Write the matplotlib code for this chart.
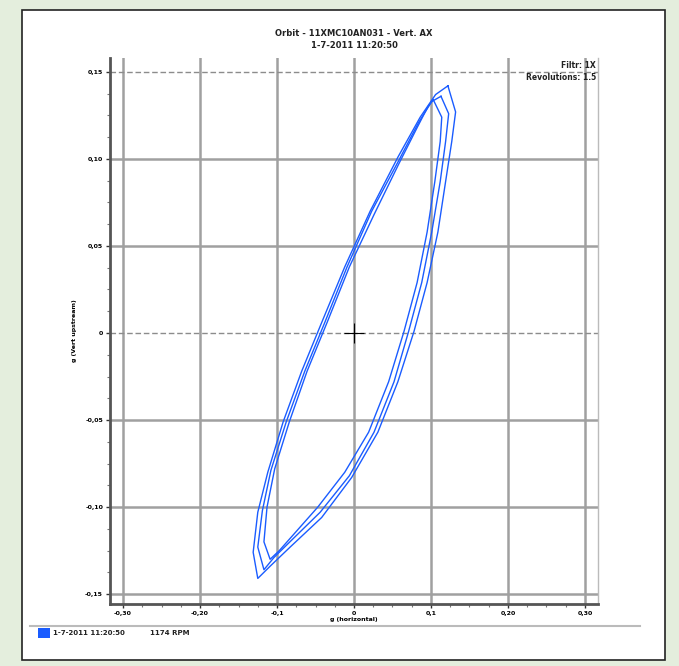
import matplotlib
matplotlib.use("Agg")
import matplotlib.pyplot as plt
from matplotlib.patches import Rectangle

# orbit samples (g), three revolutions
loop1_x = [0.122, 0.132, 0.127, 0.119, 0.109, 0.095, 0.078, 0.057, 0.031, -0.003, -0.042, -0.083, -0.109,
           -0.125, -0.131, -0.125, -0.112, -0.092, -0.068, -0.042, -0.012, 0.021, 0.057, 0.086, 0.106]
loop1_y = [0.142, 0.127, 0.110, 0.087, 0.058, 0.029, 0.001, -0.028, -0.057, -0.083, -0.106, -0.123, -0.134,
           -0.141, -0.126, -0.103, -0.080, -0.051, -0.022, 0.006, 0.038, 0.070, 0.101, 0.124, 0.137]
loop2_x = [0.113, 0.123, 0.119, 0.112, 0.101, 0.088, 0.071, 0.052, 0.026, -0.006, -0.044, -0.081, -0.104,
           -0.117, -0.125, -0.119, -0.108, -0.088, -0.064, -0.038, -0.009, 0.023, 0.058, 0.084, 0.101]
loop2_y = [0.136, 0.126, 0.110, 0.087, 0.058, 0.029, 0.001, -0.028, -0.057, -0.082, -0.103, -0.119, -0.129,
           -0.136, -0.123, -0.102, -0.079, -0.051, -0.022, 0.006, 0.038, 0.070, 0.099, 0.121, 0.133]
loop3_x = [0.103, 0.114, 0.112, 0.105, 0.095, 0.082, 0.065, 0.045, 0.019, -0.012, -0.047, -0.079, -0.097,
           -0.109, -0.117, -0.113, -0.103, -0.084, -0.061, -0.035, -0.006, 0.026, 0.058, 0.082, 0.096]
loop3_y = [0.134, 0.124, 0.110, 0.087, 0.058, 0.029, 0.001, -0.028, -0.057, -0.080, -0.100, -0.116, -0.125,
           -0.130, -0.120, -0.100, -0.078, -0.051, -0.022, 0.006, 0.038, 0.068, 0.097, 0.118, 0.130]

x_ticks = [-0.3, -0.2, -0.1, 0, 0.1, 0.2, 0.3]
x_labels = ["-0,30", "-0,20", "-0,1", "0", "0,1", "0,20", "0,30"]
y_ticks = [0.15, 0.10, 0.05, 0, -0.05, -0.10, -0.15]
y_labels = ["0,15", "0,10", "0,05", "0", "-0,05", "-0,10", "-0,15"]

blue = "#1a5cff"

fig = plt.figure(figsize=(6.79, 6.66), dpi=100)
fig.patch.set_facecolor("#e4eedd")

# white sheet with black border
sheet = Rectangle((22 / 679, 6 / 666), 643 / 679, 650 / 666, transform=fig.transFigure,
                  facecolor="white", edgecolor="#222222", lw=1.2, zorder=-5)
fig.add_artist(sheet)

ax = fig.add_axes([110 / 679, 62 / 666, 488 / 679, 546 / 666])
ax.set_zorder(2)
ax.set_facecolor("white")

for lx, ly in [(loop1_x, loop1_y), (loop2_x, loop2_y), (loop3_x, loop3_y)]:
    ax.plot(lx + lx[:1], ly + ly[:1], color=blue, lw=1.0, zorder=3)

ax.plot([0], [0], marker="+", color="black", markersize=14, mew=0.8, zorder=4)

ax.set_xlim(-0.317, 0.317)
ax.set_ylim(-0.1557, 0.158)

ax.set_xticks(x_ticks)
ax.set_xticklabels(x_labels)
ax.set_yticks(y_ticks)
ax.set_yticklabels(y_labels)
ax.set_xticks([t / 40 for t in range(-12, 13)], minor=True)
ax.set_yticks([t / 80 for t in range(-12, 13)], minor=True)
ax.tick_params(which="major", length=3, width=1, color="#333333", labelsize=4.5, pad=2)
ax.tick_params(which="minor", length=2, width=0.8, color="#777777")
for lab in ax.get_xticklabels() + ax.get_yticklabels():
    lab.set_fontweight("bold")

# grid: solid grey lines, dashed at y=0 and y=0.15
for xv in x_ticks:
    ax.axvline(xv, color="#a0a0a0", lw=1.8, zorder=1)
for yv in y_ticks:
    if yv in (0, 0.15):
        ax.axhline(yv, color="#8c8c8c", lw=1.0, ls=(0, (4, 2)), zorder=1)
    else:
        ax.axhline(yv, color="#a0a0a0", lw=1.8, zorder=1)

for side in ["left", "bottom"]:
    ax.spines[side].set_color("#555555")
    ax.spines[side].set_linewidth(2.0)
ax.spines["top"].set_visible(False)
ax.spines["right"].set_color("#bbbbbb")
ax.spines["right"].set_linewidth(1.0)

ax.set_xlabel("g (horizontal)", fontsize=4.5, fontweight="bold", labelpad=1)
ax.set_ylabel("g (Vert upstream)", fontsize=4.5, fontweight="bold", labelpad=6)

fig.text(354 / 679, 1 - 33 / 666, "Orbit - 11XMC10AN031 - Vert. AX", ha="center", va="center",
         fontsize=6, fontweight="bold", color="#222222")
fig.text(354 / 679, 1 - 45 / 666, "1-7-2011 11:20:50", ha="center", va="center",
         fontsize=6, fontweight="bold", color="#222222")
fig.text(596 / 679, 1 - 65 / 666, "Filtr: 1X", ha="right", va="center", fontsize=5.5,
         fontweight="bold", color="#222222", zorder=5)
fig.text(596 / 679, 1 - 77 / 666, "Revolutions: 1.5", ha="right", va="center", fontsize=5.5,
         fontweight="bold", color="#222222", zorder=5)

# legend strip
fig.add_artist(plt.Line2D([30 / 679, 640 / 679], [1 - 626 / 666, 1 - 626 / 666],
                          transform=fig.transFigure, color="#bbbbbb", lw=1.5))
fig.add_artist(Rectangle((38 / 679, 1 - 638 / 666), 12 / 679, 10 / 666, transform=fig.transFigure,
                         facecolor=blue, edgecolor="none"))
fig.text(53 / 679, 1 - 633 / 666, "1-7-2011 11:20:50", ha="left", va="center", fontsize=5,
         fontweight="bold", color="#222222")
fig.text(150 / 679, 1 - 633 / 666, "1174 RPM", ha="left", va="center", fontsize=5,
         fontweight="bold", color="#222222")

fig.savefig("out.png", dpi=100, facecolor=fig.get_facecolor())
